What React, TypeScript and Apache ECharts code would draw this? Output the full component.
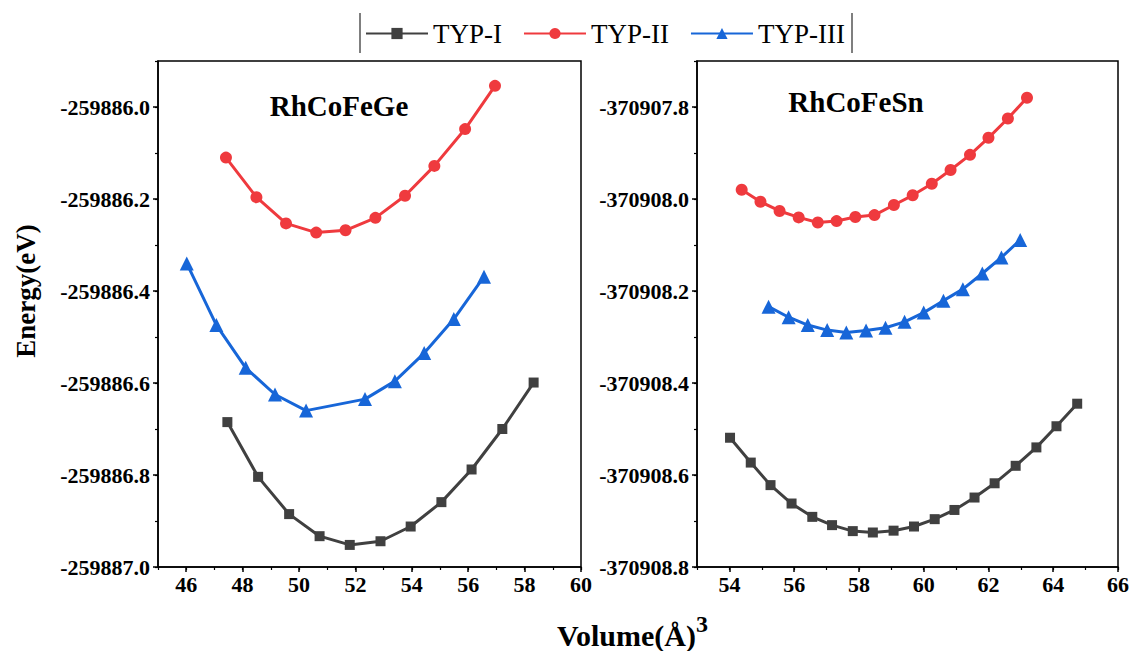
import React, { useEffect, useRef } from "react";
import * as echarts from "echarts";

// ---- Data: RhCoFeGe ----
const geVolI = [47.46, 48.55, 49.65, 50.73, 51.8, 52.89, 53.96, 55.05, 56.12, 57.21, 58.32];
const geEnI = [-259886.685, -259886.804, -259886.885, -259886.933, -259886.952, -259886.944, -259886.912, -259886.859, -259886.788, -259886.7, -259886.599];
const geVolII = [47.41, 48.49, 49.54, 50.61, 51.65, 52.71, 53.76, 54.8, 55.89, 56.95];
const geEnII = [-259886.11, -259886.196, -259886.253, -259886.273, -259886.268, -259886.241, -259886.193, -259886.128, -259886.048, -259885.954];
const geVolIII = [46.02, 47.07, 48.11, 49.15, 50.25, 52.34, 53.4, 54.44, 55.49, 56.56];
const geEnIII = [-259886.34, -259886.474, -259886.567, -259886.625, -259886.66, -259886.635, -259886.596, -259886.535, -259886.461, -259886.369];

// ---- Data: RhCoFeSn ----
const snVolI = [54.02, 54.66, 55.27, 55.92, 56.56, 57.17, 57.81, 58.43, 59.07, 59.7, 60.34, 60.95, 61.57, 62.19, 62.84, 63.48, 64.1, 64.74];
const snEnI = [-370908.519, -370908.573, -370908.622, -370908.662, -370908.691, -370908.709, -370908.722, -370908.725, -370908.721, -370908.712, -370908.696, -370908.676, -370908.649, -370908.618, -370908.58, -370908.54, -370908.494, -370908.445];
const snVolII = [54.38, 54.96, 55.55, 56.14, 56.73, 57.31, 57.89, 58.48, 59.08, 59.66, 60.25, 60.83, 61.43, 62.0, 62.6, 63.19];
const snEnII = [-370907.98, -370908.006, -370908.026, -370908.04, -370908.051, -370908.048, -370908.039, -370908.035, -370908.013, -370907.992, -370907.967, -370907.937, -370907.904, -370907.867, -370907.825, -370907.78];
const snVolIII = [55.21, 55.83, 56.42, 57.02, 57.61, 58.22, 58.82, 59.41, 60.0, 60.61, 61.21, 61.81, 62.4, 62.98];
const snEnIII = [-370908.234, -370908.257, -370908.274, -370908.285, -370908.29, -370908.286, -370908.28, -370908.267, -370908.247, -370908.221, -370908.196, -370908.162, -370908.127, -370908.089];

const seriesNames = ["TYP-I", "TYP-II", "TYP-III"];
const panelTitles = ["RhCoFeGe", "RhCoFeSn"];
const yTitle = "Energy(eV)";
const xTitle = "Volume(Å)";
const xTitleSup = "3";

const FONT = '"Liberation Serif", "Times New Roman", serif';
const COLORS = ["#404040", "#ef3a3e", "#1766d8"];
const SYMBOLS = ["rect", "circle", "triangle"];
const SIZES = [10, 12, 14];

const zip = (xs: number[], ys: number[]) => xs.map((x, i) => [x, ys[i]]);

function makeXAxes(gridIndex: number, min: number, max: number) {
  return [
    {
      type: "value",
      gridIndex,
      min,
      max,
      splitNumber: 7,
      position: "bottom",
      axisLine: { show: true, onZero: false, lineStyle: { color: "#000", width: 1.5 } },
      axisTick: { show: true, length: 5, lineStyle: { color: "#000", width: 1.5 } },
      axisLabel: {
        showMinLabel: false,
        margin: 6,
        color: "#000",
        fontFamily: FONT,
        fontWeight: "bold",
        fontSize: 22,
      },
      splitLine: { show: false },
    },
    {
      type: "value",
      gridIndex,
      min,
      max,
      interval: 1,
      position: "bottom",
      axisLine: { show: false, onZero: false },
      axisTick: { show: true, length: 3, lineStyle: { color: "#000", width: 1.2 } },
      axisLabel: { show: false },
      splitLine: { show: false },
    },
  ];
}

function makeYAxes(gridIndex: number, min: number, max: number) {
  return [
    {
      type: "value",
      gridIndex,
      min,
      max,
      interval: 0.2,
      position: "left",
      scale: true,
      axisLine: { show: true, onZero: false, lineStyle: { color: "#000", width: 1.5 } },
      axisTick: { show: true, length: 5, lineStyle: { color: "#000", width: 1.5 } },
      axisLabel: {
        showMaxLabel: false,
        margin: 8,
        color: "#000",
        fontFamily: FONT,
        fontWeight: "bold",
        fontSize: 22,
        formatter: (v: number) => v.toFixed(1),
      },
      splitLine: { show: false },
    },
    {
      type: "value",
      gridIndex,
      min,
      max,
      interval: 0.1,
      position: "left",
      scale: true,
      axisLine: { show: false, onZero: false },
      axisTick: { show: true, length: 3, lineStyle: { color: "#000", width: 1.2 } },
      axisLabel: { show: false },
      splitLine: { show: false },
    },
  ];
}

function makeSeries(name: string, idx: number, data: number[][], axisIndex: number) {
  return {
    type: "line",
    name,
    data,
    xAxisIndex: axisIndex,
    yAxisIndex: axisIndex,
    symbol: SYMBOLS[idx],
    symbolSize: SIZES[idx],
    showSymbol: true,
    lineStyle: { color: COLORS[idx], width: 3 },
    itemStyle: { color: COLORS[idx] },
    z: 3,
  };
}

export default function App() {
  const ref = useRef<HTMLDivElement>(null);
  useEffect(() => {
    if (!ref.current) return;
    const chart = echarts.init(ref.current, null, { renderer: "svg" });
    const option: any = {
      animation: false,
      backgroundColor: "#ffffff",
      legend: {
        data: seriesNames,
        left: 360,
        top: 15,
        itemWidth: 62,
        itemHeight: 14,
        itemGap: 21,
        textStyle: { fontFamily: FONT, fontSize: 27, color: "#000" },
      },
      grid: [
        { left: 158, top: 61, width: 423, height: 506, show: true, borderColor: "#000", borderWidth: 1.5, backgroundColor: "transparent" },
        { left: 697, top: 61, width: 421, height: 506, show: true, borderColor: "#000", borderWidth: 1.5, backgroundColor: "transparent" },
      ],
      xAxis: [...makeXAxes(0, 45, 60), ...makeXAxes(1, 53, 66)],
      yAxis: [...makeYAxes(0, -259887.0, -259885.9), ...makeYAxes(1, -370908.8, -370907.7)],
      series: [
        makeSeries(seriesNames[0], 0, zip(geVolI, geEnI), 0),
        makeSeries(seriesNames[1], 1, zip(geVolII, geEnII), 0),
        makeSeries(seriesNames[2], 2, zip(geVolIII, geEnIII), 0),
        makeSeries(seriesNames[0], 0, zip(snVolI, snEnI), 2),
        makeSeries(seriesNames[1], 1, zip(snVolII, snEnII), 2),
        makeSeries(seriesNames[2], 2, zip(snVolIII, snEnIII), 2),
      ],
      graphic: [
        { type: "line", shape: { x1: 360, y1: 13, x2: 360, y2: 53 }, style: { stroke: "#555", lineWidth: 1.5 } },
        { type: "line", shape: { x1: 852, y1: 13, x2: 852, y2: 53 }, style: { stroke: "#555", lineWidth: 1.5 } },
        {
          type: "text",
          x: 339,
          y: 106,
          style: { text: panelTitles[0], fontFamily: FONT, fontWeight: "bold", fontSize: 29, fill: "#000", textAlign: "center", textVerticalAlign: "middle" },
        },
        {
          type: "text",
          x: 856,
          y: 102,
          style: { text: panelTitles[1], fontFamily: FONT, fontWeight: "bold", fontSize: 29, fill: "#000", textAlign: "center", textVerticalAlign: "middle" },
        },
        {
          type: "text",
          x: 26,
          y: 291,
          rotation: Math.PI / 2,
          style: { text: yTitle, fontFamily: FONT, fontWeight: "bold", fontSize: 27, fill: "#000", textAlign: "center", textVerticalAlign: "middle" },
        },
        {
          type: "text",
          x: 557,
          y: 635,
          style: { text: xTitle, fontFamily: FONT, fontWeight: "bold", fontSize: 30, fill: "#000", textAlign: "left", textVerticalAlign: "middle" },
        },
        {
          type: "text",
          x: 696,
          y: 624,
          style: { text: xTitleSup, fontFamily: FONT, fontWeight: "bold", fontSize: 24, fill: "#000", textAlign: "left", textVerticalAlign: "middle" },
        },
      ],
    };
    chart.setOption(option);
    return () => chart.dispose();
  }, []);
  return <div ref={ref} style={{ position: "fixed", left: 0, top: 0, width: 1132, height: 651 }} />;
}
